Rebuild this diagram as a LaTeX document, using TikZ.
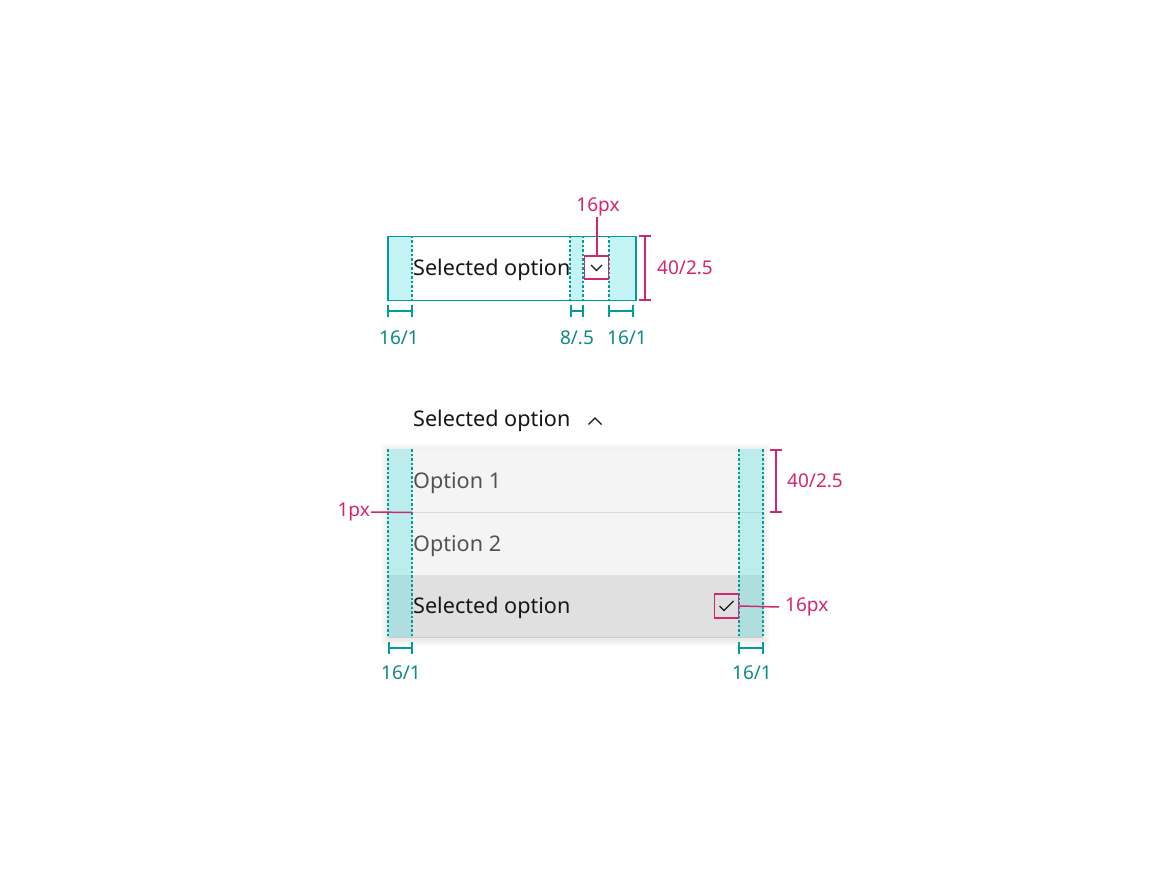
\documentclass[tikz,border=0pt]{standalone}
\usepackage{fontspec}
\setmainfont{Noto Sans}
\definecolor{tealline}{HTML}{009D9A}
\definecolor{teallabel}{HTML}{0E8A85}
\definecolor{cyanfill}{HTML}{3DDBD9}
\definecolor{mag}{HTML}{D12771}
\definecolor{txt}{HTML}{161616}
\definecolor{optxt}{HTML}{525252}
\definecolor{menubg}{HTML}{F4F4F4}
\definecolor{selbg}{HTML}{E0E0E0}
\definecolor{divline}{HTML}{D8D8D8}
\tikzset{
  band/.style={fill=cyanfill, fill opacity=0.3},
  guide/.style={draw=tealline, line width=1.1pt, dash pattern=on 2.5pt off 2pt},
  tealdim/.style={draw=tealline, line width=1.5pt},
  magdim/.style={draw=mag, line width=1.5pt},
  maintext/.style={font=\fontsize{21.6}{25}\selectfont, text=txt, inner sep=0pt, anchor=base west},
  opttext/.style={font=\fontsize{21.6}{25}\selectfont, text=optxt, inner sep=0pt, anchor=base west},
  teallbl/.style={font=\fontsize{19}{22}\selectfont, text=teallabel, inner sep=1pt},
  maglbl/.style={font=\fontsize{19}{22}\selectfont, text=mag, inner sep=1pt},
  magbox/.style={draw=mag, line width=1.5pt, minimum width=24pt, minimum height=24pt, inner sep=0pt},
  glyph/.style={draw=txt, line width=1.4pt},
}
\begin{document}
\begin{tikzpicture}[x=1pt,y=-1pt]
\useasboundingbox (0,0) rectangle (1152,877);
\fill[white] (0,0) rectangle (1152,877);

% ================= TOP: closed dropdown =================
\fill[band] (387,236) rectangle (412,300);
\fill[band] (570,236) rectangle (583,300);
\fill[band] (609,236) rectangle (635,300);
\draw[guide] (412,236) -- (412,300);
\draw[guide] (570,236) -- (570,300);
\draw[guide] (583,236) -- (583,300);
\draw[guide] (609,236) -- (609,300);
\node[draw=tealline, line width=1.5pt, minimum width=248pt, minimum height=64pt, inner sep=0pt, anchor=north west] (field) at (387,236) {};
\node[maintext] (seltop) at (413,276) {Selected option};
\node[magbox, minimum height=23pt] (chevbox) at (596.5,267.5) {};
\draw[glyph] (591,265) -- (596.5,270.5) -- (602,265);
\node[maglbl] (px16a) at (598,207) {16px};
\draw[magdim] (chevbox.north -| 597,0) -- (px16a.south -| 597,0);

% height dimension
\coordinate (hA) at (645,236);
\coordinate (hB) at (645,300);
\draw[magdim] (hA) -- (hB);
\draw[magdim] ([xshift=-6pt]hA) -- ([xshift=6pt]hA);
\draw[magdim] ([xshift=-6pt]hB) -- ([xshift=6pt]hB);
\node[maglbl, anchor=west] (h40a) at (656,268) {40/2.5};

% width dimensions
\coordinate (d1a) at (388,311); \coordinate (d1b) at (412,311);
\coordinate (d2a) at (571,311); \coordinate (d2b) at (583,311);
\coordinate (d3a) at (609,311); \coordinate (d3b) at (633,311);
\foreach \a/\b in {d1a/d1b, d2a/d2b, d3a/d3b}{
  \draw[tealdim] (\a) -- (\b);
  \draw[tealdim] ([yshift=-6pt]\a) -- ([yshift=6pt]\a);
  \draw[tealdim] ([yshift=-6pt]\b) -- ([yshift=6pt]\b);
}
\node[teallbl] (w1) at (399,338) {16/1};
\node[teallbl] (w2) at (577,338) {8/.5};
\node[teallbl] (w3) at (627,338) {16/1};

% ================= BOTTOM: open dropdown =================
\node[maintext] (selhead) at (413,426) {Selected option};
\draw[glyph] (588.5,424.5) -- (595,418) -- (601.5,424.5);

% shadow
\foreach \s in {1,...,7}{
  \fill[black, opacity=0.013] (388-\s,449-\s+1.5) rectangle (763+\s,637+\s+1.5);
}
\node[fill=menubg, minimum width=375pt, minimum height=126pt, inner sep=0pt, anchor=north west] (menu) at (388,449) {};
\node[fill=selbg, minimum width=375pt, minimum height=62pt, inner sep=0pt, anchor=north west] (selrow) at (388,575) {};
\draw[divline, line width=1pt] (388,512.5) -- (763,512.5);
\draw[draw=black!20, line width=1.2pt] (388,637.5) -- (763,637.5);

\node[opttext] (opt1) at (413,488) {Option 1};
\node[opttext] (opt2) at (413,551) {Option 2};
\node[maintext] (opt3) at (413,613) {Selected option};

\fill[band] (388,449) rectangle (412,637);
\fill[band] (739,449) rectangle (763,637);
\draw[guide] (388,449) -- (388,637);
\draw[guide] (412,449) -- (412,637);
\draw[guide] (739,449) -- (739,637);
\draw[guide] (763,449) -- (763,637);

% checkmark
\node[magbox] (checkbox) at (726.5,606) {};
\draw[glyph, line width=1.3pt] (719.5,606) -- (724,610.5) -- (733.5,601);
\node[maglbl, anchor=west] (px16b) at (784,607) {16px};
\draw[magdim] (checkbox.east) -- ([xshift=-5pt]px16b.west);

% 1px divider
\node[maglbl, anchor=east] (px1) at (371,512) {1px};
\coordinate (divpt) at (412,512.5);
\draw[magdim] (px1.east) -- (divpt);

% row height
\coordinate (rA) at (776,450);
\coordinate (rB) at (776,512);
\draw[magdim] (rA) -- (rB);
\draw[magdim] ([xshift=-6pt]rA) -- ([xshift=6pt]rA);
\draw[magdim] ([xshift=-6pt]rB) -- ([xshift=6pt]rB);
\node[maglbl, anchor=west] (h40b) at (786,481) {40/2.5};

% bottom widths
\coordinate (e1a) at (389,648); \coordinate (e1b) at (412,648);
\coordinate (e2a) at (739,648); \coordinate (e2b) at (763,648);
\foreach \a/\b in {e1a/e1b, e2a/e2b}{
  \draw[tealdim] (\a) -- (\b);
  \draw[tealdim] ([yshift=-6pt]\a) -- ([yshift=6pt]\a);
  \draw[tealdim] ([yshift=-6pt]\b) -- ([yshift=6pt]\b);
}
\node[teallbl] (w4) at (401,673) {16/1};
\node[teallbl] (w5) at (752,673) {16/1};
\end{tikzpicture}
\end{document}
